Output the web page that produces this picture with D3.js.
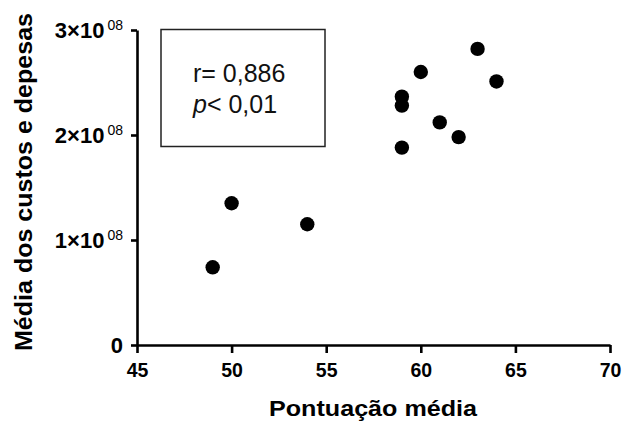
<!DOCTYPE html>
<html>
<head>
<meta charset="utf-8">
<script src="https://cdn.jsdelivr.net/npm/d3@7"></script>
<style>
  html, body { margin: 0; padding: 0; background: #fff; }
  svg { display: block; font-family: "Liberation Sans", Arial, sans-serif; }
</style>
</head>
<body>
<svg id="chart" width="622" height="421"></svg>
<script>
// Mean score vs. mean costs and expenses
const scores = [49, 50, 54, 59, 59, 59, 60, 61, 62, 63, 64];
const costs  = [0.74e8, 1.35e8, 1.15e8, 2.365e8, 2.28e8, 1.88e8, 2.60e8, 2.12e8, 1.98e8, 2.82e8, 2.51e8];
const xTicks = [45, 50, 55, 60, 65, 70];
const yTicks = [0, 1e8, 2e8, 3e8];
const yExponent = "08";
const statLines = ["r= 0,886", "< 0,01"];

const svg = d3.select("#chart");

const x = d3.scaleLinear().domain([45, 70]).range([137, 610]);
const y = d3.scaleLinear().domain([0, 3e8]).range([345, 30]);

// x axis
const gx = svg.append("g")
  .attr("transform", `translate(0,${y(0)})`)
  .call(d3.axisBottom(x).tickValues(xTicks).tickSize(8).tickPadding(10.5).tickSizeOuter(0));
gx.select(".domain").attr("stroke", "#000").attr("stroke-width", 2.6);
gx.selectAll(".tick line").attr("stroke", "#000").attr("stroke-width", 2.6);
gx.selectAll(".tick text")
  .attr("fill", "#000").attr("font-size", 19.5).attr("font-weight", "bold")
  .attr("font-family", "Liberation Sans, Arial, sans-serif");

// y axis with scientific tick labels
const gy = svg.append("g")
  .attr("transform", `translate(${x(45)},0)`)
  .call(d3.axisLeft(y).tickValues(yTicks).tickSize(6).tickPadding(8).tickSizeOuter(0).tickFormat(""));
gy.select(".domain").attr("stroke", "#000").attr("stroke-width", 2.6);
gy.selectAll(".tick line").attr("stroke", "#000").attr("stroke-width", 2.6);
gy.selectAll(".tick text").each(function(d) {
  const t = d3.select(this)
    .attr("fill", "#000").attr("font-size", 22).attr("font-weight", "bold")
    .attr("font-family", "Liberation Sans, Arial, sans-serif")
    .attr("dy", "0.36em");
  if (d === 0) {
    t.text("0");
  } else {
    t.append("tspan").text(`${d / 1e8}\u00d710`);
    t.append("tspan").attr("font-size", 14).attr("font-weight", "normal")
      .attr("dx", 3).attr("dy", -8).text(yExponent);
  }
});

// axis titles
svg.append("text")
  .attr("x", 373).attr("y", 416)
  .attr("text-anchor", "middle")
  .attr("font-size", 22).attr("font-weight", "bold")
  .attr("textLength", 208).attr("lengthAdjust", "spacingAndGlyphs")
  .text("Pontuação média");

svg.append("text")
  .attr("transform", "translate(32,182) rotate(-90)")
  .attr("text-anchor", "middle")
  .attr("font-size", 24.5).attr("font-weight", "bold")
  .attr("textLength", 338).attr("lengthAdjust", "spacingAndGlyphs")
  .text("Média dos custos e depesas");

// correlation box
svg.append("rect")
  .attr("x", 161).attr("y", 29.5).attr("width", 164).attr("height", 117)
  .attr("fill", "none").attr("stroke", "#222").attr("stroke-width", 1.5);

svg.append("text")
  .attr("x", 193).attr("y", 82)
  .attr("font-size", 25).attr("fill", "#111")
  .text(statLines[0]);

const pLine = svg.append("text")
  .attr("x", 193).attr("y", 113)
  .attr("font-size", 25).attr("fill", "#111");
pLine.append("tspan").attr("font-style", "italic").text("p");
pLine.append("tspan").text(statLines[1]);

// data points
svg.append("g")
  .selectAll("circle")
  .data(scores.map((s, i) => ({ s, c: costs[i] })))
  .join("circle")
  .attr("cx", d => x(d.s))
  .attr("cy", d => y(d.c))
  .attr("r", 7.2)
  .attr("fill", "#000");
</script>
</body>
</html>
